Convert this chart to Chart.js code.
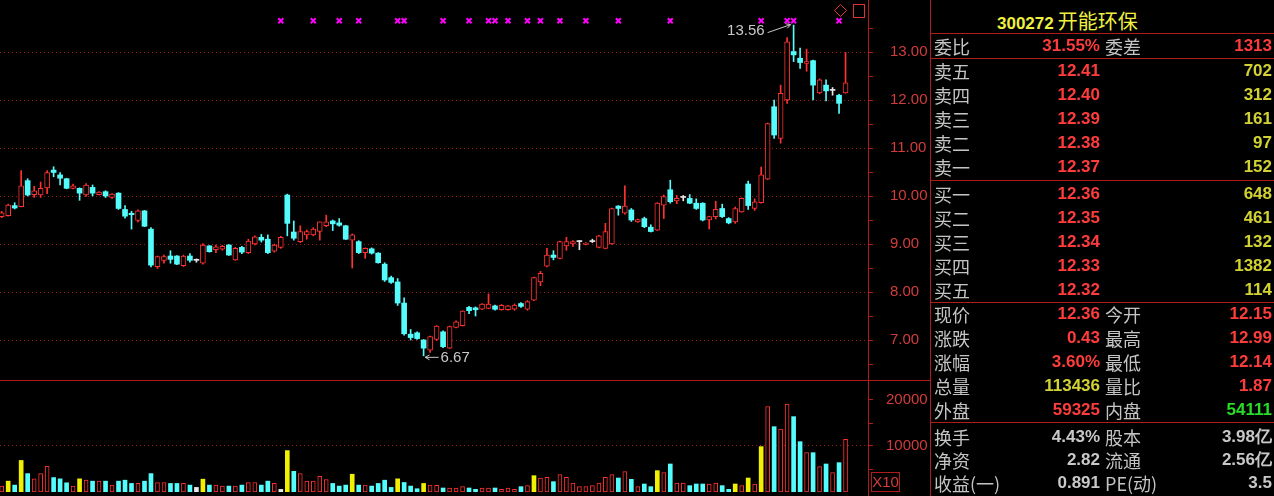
<!DOCTYPE html>
<html>
<head>
<meta charset="utf-8">
<script src="https://cdn.jsdelivr.net/npm/chart.js@4.4.0/dist/chart.umd.min.js"></script>
<style>
    html, body { margin: 0; padding: 0; background: #000; }
    #wrap { position: relative; width: 1274px; height: 496px; background: #000; overflow: hidden; }
    #wrap canvas { position: absolute; left: 0; }
    .ln { position: absolute; background: #b01c1c; }
    .q { position: absolute; white-space: nowrap; height: 20px; line-height: 20px; }
    .lab { font-family: "Noto Sans CJK SC", sans-serif; font-size: 18px; color: #c4c4c4; }
    .num { font-family: "Liberation Sans", Arial, sans-serif; font-weight: bold; font-size: 17px; text-align: right; }
</style>
</head>
<body>
<div id="wrap">
    <canvas id="kline" width="932" height="380" style="top:0"></canvas>
    <canvas id="vol" width="932" height="116" style="top:380px"></canvas>
    <div class="ln" style="left:868px;top:0;width:1px;height:496px"></div>
    <div class="ln" style="left:930px;top:0;width:1px;height:496px"></div>
    <div class="ln" style="left:0;top:380px;width:931px;height:1px"></div>
    <div id="quote"></div>
</div>
<script>
// daily candles, oldest first
const opens = [
    9.57, 9.59, 9.80, 9.78, 10.32, 10.03, 10.02, 10.17, 10.54, 10.44,
    10.36, 10.16, 10.16, 10.02, 10.18, 10.03, 10.09, 9.97, 10.06, 9.72,
    9.64, 9.49, 9.69, 9.31, 8.53, 8.66, 8.75, 8.75, 8.55, 8.75,
    8.66, 8.60, 8.96, 8.88, 8.89, 8.98, 8.67, 8.93, 8.82, 9.00,
    9.14, 9.10, 8.85, 8.93, 10.02, 9.25, 9.05, 9.19, 9.19, 9.26,
    9.38, 9.48, 9.44, 9.38, 9.08, 9.05, 8.82, 8.90, 8.81, 8.58,
    8.30, 8.21, 7.77, 7.12, 7.15, 7.00, 6.79, 7.01, 7.17, 6.83,
    7.26, 7.30, 7.68, 7.67, 7.64, 7.66, 7.71, 7.63, 7.63, 7.64,
    7.76, 7.64, 7.83, 8.21, 8.54, 8.77, 8.70, 8.96, 9.00, 9.05,
    8.99, 9.05, 8.93, 8.91, 9.00, 9.79, 9.64, 9.71, 9.46, 9.53,
    9.35, 9.29, 9.81, 10.13, 9.90, 9.97, 9.95, 9.85, 9.85, 9.50,
    9.57, 9.74, 9.53, 9.46, 9.67, 10.25, 9.74, 9.86, 10.35, 11.86,
    11.20, 12.00, 13.01, 12.87, 12.76, 12.82, 12.15, 12.31, 12.20, 12.10,
    12.15
];
const highs = [
    9.68, 9.83, 9.86, 10.53, 10.36, 10.20, 10.29, 10.53, 10.61, 10.49,
    10.37, 10.25, 10.17, 10.26, 10.23, 10.09, 10.11, 10.05, 10.07, 9.80,
    9.68, 9.71, 9.70, 9.34, 8.75, 8.77, 8.86, 8.76, 8.77, 8.80,
    8.69, 9.01, 8.97, 8.98, 8.97, 8.99, 8.93, 8.95, 9.10, 9.17,
    9.20, 9.19, 9.00, 9.16, 10.04, 9.48, 9.38, 9.29, 9.34, 9.46,
    9.60, 9.50, 9.53, 9.39, 9.21, 9.07, 8.92, 8.92, 8.82, 8.61,
    8.33, 8.28, 7.88, 7.22, 7.17, 7.01, 7.08, 7.30, 7.19, 7.29,
    7.40, 7.61, 7.70, 7.69, 7.76, 7.96, 7.73, 7.74, 7.72, 7.75,
    7.78, 7.82, 8.31, 8.43, 8.91, 8.86, 9.06, 9.14, 9.07, 9.07,
    9.03, 9.10, 9.18, 9.43, 9.75, 9.80, 10.21, 9.74, 9.52, 9.56,
    9.40, 9.86, 10.02, 10.33, 10.01, 10.01, 10.03, 9.94, 9.86, 9.58,
    9.89, 9.83, 9.55, 9.77, 9.96, 10.31, 9.94, 10.60, 11.52, 12.00,
    12.31, 13.30, 13.56, 13.08, 13.06, 12.83, 12.44, 12.42, 12.26, 12.12,
    12.99
];
const lows = [
    9.55, 9.58, 9.73, 9.77, 10.00, 9.97, 9.97, 10.05, 10.40, 10.23,
    10.15, 10.15, 9.91, 9.99, 10.00, 10.02, 9.97, 9.95, 9.72, 9.54,
    9.31, 9.46, 9.36, 8.52, 8.49, 8.60, 8.60, 8.57, 8.53, 8.62,
    8.62, 8.58, 8.83, 8.82, 8.87, 8.76, 8.66, 8.80, 8.80, 8.98,
    9.04, 8.80, 8.83, 8.91, 9.17, 9.08, 9.03, 9.10, 9.17, 9.08,
    9.36, 9.28, 9.37, 9.09, 8.50, 8.80, 8.70, 8.79, 8.60, 8.22,
    8.18, 7.72, 7.10, 7.00, 7.01, 6.67, 6.74, 6.99, 6.84, 6.82,
    7.25, 7.29, 7.55, 7.50, 7.63, 7.65, 7.62, 7.62, 7.62, 7.62,
    7.68, 7.62, 7.82, 8.13, 8.52, 8.67, 8.69, 8.87, 8.95, 8.88,
    8.98, 9.03, 8.92, 8.90, 8.99, 9.60, 9.62, 9.47, 9.45, 9.34,
    9.25, 9.28, 9.53, 9.85, 9.84, 9.90, 9.84, 9.72, 9.48, 9.31,
    9.52, 9.55, 9.42, 9.43, 9.66, 9.72, 9.70, 9.85, 10.34, 11.20,
    11.10, 11.93, 12.80, 12.66, 12.60, 12.00, 12.13, 11.98, 12.10, 11.72,
    12.14
];
const closes = [
    9.65, 9.81, 9.75, 10.21, 10.02, 10.11, 10.16, 10.49, 10.49, 10.37,
    10.16, 10.21, 10.06, 10.23, 10.06, 10.08, 10.00, 10.04, 9.74, 9.58,
    9.61, 9.69, 9.37, 8.56, 8.74, 8.74, 8.68, 8.58, 8.75, 8.66,
    8.66, 8.98, 8.84, 8.94, 8.95, 8.77, 8.91, 8.83, 9.06, 9.15,
    9.08, 8.82, 8.98, 9.14, 9.43, 9.12, 9.26, 9.26, 9.31, 9.46,
    9.46, 9.42, 9.39, 9.10, 9.19, 8.82, 8.91, 8.81, 8.61, 8.25,
    8.20, 7.77, 7.13, 7.05, 7.03, 6.83, 7.07, 7.29, 6.86, 7.28,
    7.38, 7.60, 7.61, 7.63, 7.75, 7.75, 7.64, 7.72, 7.71, 7.73,
    7.70, 7.80, 8.30, 8.39, 8.77, 8.72, 9.05, 9.05, 9.05, 9.05,
    9.02, 9.05, 9.17, 9.26, 9.74, 9.74, 9.79, 9.50, 9.51, 9.36,
    9.26, 9.85, 9.99, 9.88, 9.95, 9.97, 9.85, 9.74, 9.50, 9.57,
    9.72, 9.57, 9.44, 9.74, 9.95, 9.80, 9.88, 10.44, 11.51, 11.27,
    12.14, 13.21, 12.94, 12.78, 12.80, 12.31, 12.42, 12.19, 12.20, 11.93,
    12.36
];
// volume in lots (/10), and the colour kind of each volume bar: r red, c cyan, y yellow, w white
const volumes = [
    1290, 2360, 1500, 6860, 4000, 2860, 4000, 5570, 3140, 2860,
    2000, 1290, 2860, 2570, 2360, 2360, 2360, 1500, 2360, 2570,
    1860, 1860, 2360, 4000, 2070, 2070, 1860, 1860, 1860, 1500,
    1000, 2790, 1500, 1500, 1290, 1290, 1290, 1500, 2070, 2070,
    1500, 2360, 1860, 570, 9000, 4500, 4000, 2360, 2360, 3430,
    2710, 1860, 1290, 1500, 3860, 1500, 1500, 1290, 1860, 2570,
    1000, 2860, 2070, 1290, 710, 1860, 1500, 1450, 870, 870,
    870, 1160, 870, 580, 870, 870, 870, 580, 870, 580,
    1160, 1380, 3550, 3040, 3190, 2250, 3770, 3190, 1960, 1160,
    1160, 1380, 1960, 3190, 3770, 3040, 4420, 2750, 1160, 1740,
    1160, 4640, 4200, 6090, 1960, 1960, 1380, 1740, 1740, 1740,
    1960, 1380, 580, 1740, 1380, 3040, 1740, 9860, 18550, 14200,
    13700, 19130, 16380, 10940, 8550, 8550, 5510, 6090, 4200, 6380,
    11450
];
const volKinds =
    'rycycrrrcc' + 'cryrcrcrcc' + 'crccrrccrc' + 'wycrrcrcrr' + 'ccrwycrrrr' +
    'rcccycrccc' + 'cycccyrrcr' + 'rrccrrcrrr' + 'cryrrcrrrr' + 'rrrrrcrcrc' +
    'cyrcrrcccr' + 'rccyryryrc' + 'rrccrcrcrc' + 'r';

const markIdx = [43, 48, 52, 55, 61, 62, 68, 72, 75, 76, 78, 81, 83, 86, 90, 95, 103, 117, 121, 122, 129];
const markLevel = 13.65;
const priceTicks = [7, 8, 9, 10, 11, 12, 13];
const volTicks = [10000, 20000];

// quote panel
const stockCode = '300272';
const stockName = '开能环保';
const weibi = ['委比', '31.55%', '委差', '1313'];
const askLabels = ['卖五', '卖四', '卖三', '卖二', '卖一'];
const askPrices = ['12.41', '12.40', '12.39', '12.38', '12.37'];
const askVols = ['702', '312', '161', '97', '152'];
const bidLabels = ['买一', '买二', '买三', '买四', '买五'];
const bidPrices = ['12.36', '12.35', '12.34', '12.33', '12.32'];
const bidVols = ['648', '461', '132', '1382', '114'];
const statLabels = ['现价', '涨跌', '涨幅', '总量', '外盘'];
const statValues = ['12.36', '0.43', '3.60%', '113436', '59325'];
const stat2Labels = ['今开', '最高', '最低', '量比', '内盘'];
const stat2Values = ['12.15', '12.99', '12.14', '1.87', '54111'];
const infoLabels = ['换手', '净资', '收益(一)'];
const infoValues = ['4.43%', '2.82', '0.891'];
const info2Labels = ['股本', '流通', 'PE(动)'];
const info2Values = ['3.98亿', '2.56亿', '3.5'];

const UP = '#ff3232', DOWN = '#54fcfc', FLAT = '#e8e8e8', YEL = '#f0f000';
const GRID = '#a01818', AXIS = '#b01c1c', AXIS_TXT = '#d23c3c';
const RED_TXT = '#ff3c3c', VOL_TXT = '#d2d232', GRAY_TXT = '#c8c8c8';

const idx = opens.map((_, i) => i);
const xMin = -0.26, xMax = 133.46;

function kind(i) {
    if (closes[i] > opens[i]) return 'up';
    if (closes[i] < opens[i]) return 'down';
    return 'flat';
}
const kindColor = {up: UP, down: DOWN, flat: FLAT};

// right axis of fixed width, with no label overhang padding
function fixAxis(s) {
    s.width = 64;
    s.paddingTop = 0;
    s.paddingBottom = 0;
}

function arrow(ctx, x1, y1, x2, y2) {
    const a = Math.atan2(y2 - y1, x2 - x1);
    ctx.beginPath();
    ctx.moveTo(x1, y1);
    ctx.lineTo(x2, y2);
    ctx.moveTo(x2, y2);
    ctx.lineTo(x2 - 5 * Math.cos(a - 0.5), y2 - 5 * Math.sin(a - 0.5));
    ctx.moveTo(x2, y2);
    ctx.lineTo(x2 - 5 * Math.cos(a + 0.5), y2 - 5 * Math.sin(a + 0.5));
    ctx.stroke();
}

const klineExtras = {
    id: 'klineExtras',
    afterDatasetsDraw(chart) {
        const {ctx, chartArea, scales: {x, y}} = chart;
        ctx.save();
        ctx.strokeStyle = GRAY_TXT;
        ctx.fillStyle = GRAY_TXT;
        ctx.lineWidth = 1;
        ctx.font = '15px "Liberation Sans", Arial, sans-serif';
        ctx.textBaseline = 'middle';

        // highest high
        const hi = highs.indexOf(Math.max(...highs));
        const hx = x.getPixelForValue(hi), hy = y.getPixelForValue(highs[hi]);
        arrow(ctx, hx - 26, hy + 7.5, hx - 3, hy - 0.5);
        ctx.textAlign = 'right';
        ctx.fillText(highs[hi].toFixed(2), hx - 29, hy + 6);

        // lowest low
        const lo = lows.indexOf(Math.min(...lows));
        const lx = x.getPixelForValue(lo), ly = y.getPixelForValue(lows[lo]);
        arrow(ctx, lx + 15, ly + 1.5, lx + 1.5, ly + 1.5);
        ctx.textAlign = 'left';
        ctx.fillText(lows[lo].toFixed(2), lx + 17, ly + 2.5);

        // small toolbar icons at the top right
        const r = chartArea.right;
        ctx.strokeStyle = '#e03030';
        ctx.beginPath();
        ctx.moveTo(r - 27.5, 4.5);
        ctx.lineTo(r - 21.5, 10.5);
        ctx.lineTo(r - 27.5, 16.5);
        ctx.lineTo(r - 33.5, 10.5);
        ctx.closePath();
        ctx.stroke();
        ctx.strokeRect(r - 14.5, 4.5, 11, 13);
        ctx.restore();
    }
};

new Chart(document.getElementById('kline'), {
    type: 'bar',
    data: {
        datasets: [
            {
                type: 'scatter',
                order: -1,
                data: markIdx.map(i => ({x: i, y: markLevel})),
                pointStyle: 'crossRot',
                radius: 3.5,
                borderColor: '#ff00ff',
                backgroundColor: '#ff00ff',
                borderWidth: 2
            },
            {
                // candle bodies
                order: 0,
                data: idx.map(i => ({x: i, y: [opens[i], closes[i]]})),
                backgroundColor: idx.map(i => kind(i) === 'up' ? '#000' : kindColor[kind(i)]),
                borderColor: idx.map(i => kindColor[kind(i)]),
                borderWidth: idx.map(i => kind(i) === 'up' ? 1 : 0),
                borderSkipped: false,
                barThickness: 5,
                minBarLength: 1,
                grouped: false
            },
            {
                // wicks
                order: 1,
                data: idx.map(i => ({x: i, y: [lows[i], highs[i]]})),
                backgroundColor: idx.map(i => kindColor[kind(i)]),
                borderWidth: 0,
                barThickness: 1,
                grouped: false
            }
        ]
    },
    options: {
        responsive: false,
        animation: false,
        devicePixelRatio: 1,
        layout: {autoPadding: false, padding: 0},
        plugins: {legend: {display: false}, tooltip: {enabled: false}},
        scales: {
            x: {type: 'linear', display: false, offset: false, min: xMin, max: xMax},
            y: {
                position: 'right',
                min: 13 - 328 / 48,
                max: 13 + 52 / 48,
                afterBuildTicks: s => {
                    const t = [];
                    priceTicks.forEach(v => { t.push({value: v - 0.5}); t.push({value: v}); });
                    t.push({value: priceTicks[priceTicks.length - 1] + 0.5});
                    s.ticks = t;
                },
                afterFit: fixAxis,
                grid: {
                    color: c => (c.tick && priceTicks.includes(c.tick.value)) ? GRID : 'rgba(0,0,0,0)',
                    tickColor: AXIS,
                    tickLength: 5,
                    lineWidth: 1
                },
                border: {color: AXIS, dash: [1, 3]},
                ticks: {
                    color: AXIS_TXT,
                    padding: 17,
                    font: {family: 'Liberation Sans', size: 15},
                    callback: v => priceTicks.includes(v) ? v.toFixed(2) : ''
                }
            }
        }
    },
    plugins: [klineExtras]
});

const volExtras = {
    id: 'volExtras',
    afterDraw(chart) {
        const {ctx, chartArea} = chart;
        ctx.save();
        ctx.strokeStyle = AXIS;
        ctx.fillStyle = AXIS_TXT;
        ctx.strokeRect(chartArea.right + 3.5, 92.5, 28, 19);
        ctx.font = '15px "Liberation Sans", Arial, sans-serif';
        ctx.textAlign = 'center';
        ctx.textBaseline = 'middle';
        ctx.fillText('X10', chartArea.right + 17.5, 102.5);
        ctx.restore();
    }
};

const volFill = {r: '#000', c: DOWN, y: YEL, w: FLAT};
new Chart(document.getElementById('vol'), {
    type: 'bar',
    data: {
        datasets: [{
            data: idx.map(i => ({x: i, y: volumes[i]})),
            backgroundColor: idx.map(i => volFill[volKinds[i]]),
            borderColor: idx.map(i => volKinds[i] === 'r' ? UP : volFill[volKinds[i]]),
            borderWidth: idx.map(i => volKinds[i] === 'r' ? 1 : 0),
            borderSkipped: false,
            barThickness: 4,
            grouped: false
        }]
    },
    options: {
        responsive: false,
        animation: false,
        devicePixelRatio: 1,
        layout: {autoPadding: false, padding: {bottom: 4}},
        plugins: {legend: {display: false}, tooltip: {enabled: false}},
        scales: {
            x: {type: 'linear', display: false, offset: false, min: xMin, max: xMax},
            y: {
                position: 'right',
                min: 0,
                max: 20000 + 20 / 46 * 10000,
                afterBuildTicks: s => {
                    s.ticks = [5000, 10000, 15000, 20000].map(v => ({value: v}));
                },
                afterFit: fixAxis,
                grid: {
                    color: c => (c.tick && c.tick.value === 10000) ? GRID : 'rgba(0,0,0,0)',
                    tickColor: AXIS,
                    tickLength: 5
                },
                border: {color: AXIS, dash: [1, 3]},
                ticks: {
                    color: AXIS_TXT,
                    padding: 13,
                    font: {family: 'Liberation Sans', size: 15},
                    callback: v => volTicks.includes(v) ? String(v) : ''
                }
            }
        }
    },
    plugins: [volExtras]
});

// ---- quote panel ----
const quote = document.getElementById('quote');

function put(text, cls, yc, color, left, right) {
    const d = document.createElement('div');
    d.className = 'q ' + cls;
    d.textContent = text;
    d.style.top = (yc - 10) + 'px';
    if (color) d.style.color = color;
    if (left != null) d.style.left = left + 'px';
    if (right != null) d.style.right = (1274 - right) + 'px';
    quote.appendChild(d);
}

function hline(y) {
    const d = document.createElement('div');
    d.className = 'ln';
    d.style.cssText = 'left:931px;width:343px;height:1px;top:' + y + 'px';
    quote.appendChild(d);
}

function row(yc, l1, v1, c1, l2, v2, c2) {
    put(l1, 'lab', yc, null, 934, null);
    put(v1, 'num', yc, c1, null, 1100);
    if (l2) put(l2, 'lab', yc, null, 1105, null);
    put(v2, 'num', yc, c2, null, 1272);
}

// title
const t = document.createElement('div');
t.className = 'q';
t.style.cssText = 'left:997px;top:6px;height:22px;line-height:22px;color:#f0f040';
t.innerHTML = '<span style="font:bold 17px \'Liberation Sans\',Arial,sans-serif">' + stockCode +
    '</span> <span style="font:20px \'Noto Sans CJK SC\',sans-serif">' + stockName + '</span>';
quote.appendChild(t);

[33, 58, 180, 302, 422].forEach(hline);

row(46, weibi[0], weibi[1], RED_TXT, weibi[2], weibi[3], RED_TXT);

const askY = [71, 95, 119, 143, 167];
askLabels.forEach((l, i) => row(askY[i], l, askPrices[i], RED_TXT, null, askVols[i], VOL_TXT));

const bidY = [194, 218, 242, 266, 290];
bidLabels.forEach((l, i) => row(bidY[i], l, bidPrices[i], RED_TXT, null, bidVols[i], VOL_TXT));

const statY = [314, 338, 362, 386, 410];
const statColors = [RED_TXT, RED_TXT, RED_TXT, VOL_TXT, RED_TXT];
const stat2Colors = [RED_TXT, RED_TXT, RED_TXT, RED_TXT, '#28dc28'];
statLabels.forEach((l, i) => row(statY[i], l, statValues[i], statColors[i], stat2Labels[i], stat2Values[i], stat2Colors[i]));

const infoY = [437, 460, 483];
infoLabels.forEach((l, i) => row(infoY[i], l, infoValues[i], GRAY_TXT, info2Labels[i], info2Values[i], GRAY_TXT));
</script>
</body>
</html>
